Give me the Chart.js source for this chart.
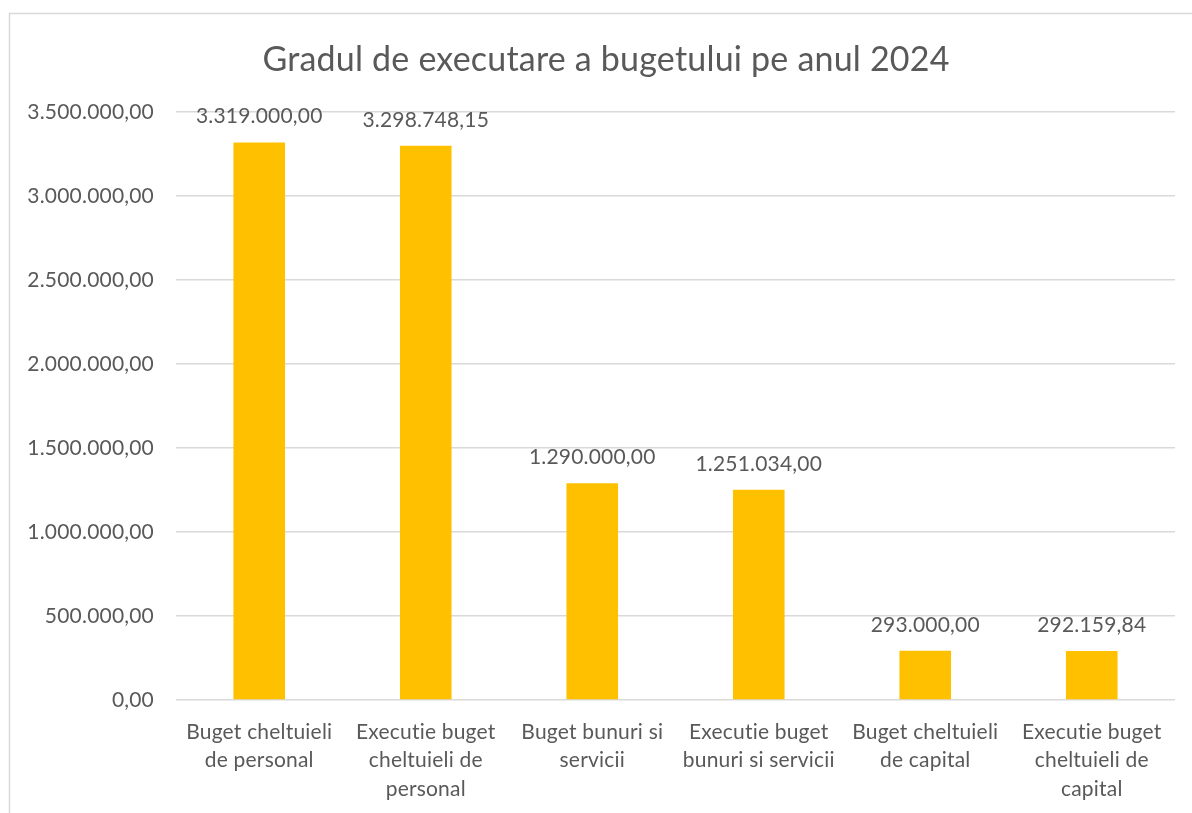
<!DOCTYPE html>
<html>
<head>
<meta charset="utf-8">
<title>Gradul de executare a bugetului pe anul 2024</title>
<script src="https://cdn.jsdelivr.net/npm/chart.js@4/dist/chart.umd.min.js"></script>
<style>
  html, body { margin: 0; padding: 0; background: #fff; overflow: hidden; }
  #wrap { position: relative; width: 1192px; height: 813px; }
</style>
</head>
<body>
<div id="wrap"><canvas id="grafic"></canvas></div>
<script>
// categorii si valori (lei)
var categorii = [
  ['Buget cheltuieli', 'de personal'],
  ['Executie buget', 'cheltuieli de', 'personal'],
  ['Buget bunuri si', 'servicii'],
  ['Executie buget', 'bunuri si servicii'],
  ['Buget cheltuieli', 'de capital'],
  ['Executie buget', 'cheltuieli de', 'capital']
];
var valori = [3319000.00, 3298748.15, 1290000.00, 1251034.00, 293000.00, 292159.84];
var axaY = { min: 0, max: 3500000, pas: 500000 };
var titlu = 'Gradul de executare a bugetului pe anul 2024';

var culoareText = '#595959';
var font = 'Lato, Calibri, Carlito, sans-serif';

// format romanesc: 3.319.000,00
function formatRo(v) {
  var parti = Number(v).toFixed(2).split('.');
  var intreg = parti[0].replace(/\B(?=(\d{3})+(?!\d))/g, '.');
  return intreg + ',' + parti[1];
}

// chenarul graficului + titlul (centrat pe chenar, nu pe canvas)
var chenar = {
  id: 'chenar',
  beforeDraw: function(chart) {
    var c = chart.ctx;
    c.letterSpacing = '0.2px'; // fara ligaturi "ti"
    c.save();
    c.strokeStyle = '#D9D9D9';
    c.lineWidth = 1.5;
    c.strokeRect(9.5, 13.5, chart.width + 20, chart.height + 20);
    c.font = '34px ' + font;
    c.fillStyle = culoareText;
    c.textAlign = 'center';
    c.textBaseline = 'middle';
    c.fillText(titlu, 606, 60);
    c.restore();
  }
};

// etichetele cu valori deasupra barelor
var etichete = {
  id: 'etichete',
  afterDatasetsDraw: function(chart) {
    var c = chart.ctx;
    var meta = chart.getDatasetMeta(0);
    c.save();
    c.font = '21px ' + font;
    c.fillStyle = culoareText;
    c.textAlign = 'center';
    c.textBaseline = 'middle';
    meta.data.forEach(function(bar, i) {
      c.fillText(formatRo(valori[i]), bar.x, bar.y - 26);
    });
    c.restore();
  }
};

var ctx = document.getElementById('grafic');
var chart = new Chart(ctx, {
  type: 'bar',
  data: {
    labels: categorii,
    datasets: [{
      label: 'Valoare',
      data: valori,
      backgroundColor: '#FFC000',
      borderWidth: 0,
      barPercentage: 0.31,
      categoryPercentage: 1
    }]
  },
  options: {
    responsive: true,
    maintainAspectRatio: false,
    animation: false,
    layout: { padding: { left: 20, right: 17, top: 112, bottom: 0 } },
    plugins: {
      legend: { display: false },
      tooltip: { enabled: false },
      title: { display: false }
    },
    scales: {
      x: {
        afterFit: function(scale) { scale.height = 113; },
        grid: { display: false, drawTicks: false },
        border: { display: false },
        ticks: {
          color: culoareText,
          font: { family: font, size: 21, lineHeight: 1.35 },
          padding: 18,
          maxRotation: 0,
          autoSkip: false
        }
      },
      y: {
        min: axaY.min,
        max: axaY.max,
        afterFit: function(scale) { scale.width = 156; },
        grid: { color: '#D9D9D9', lineWidth: 1.5, drawTicks: false },
        border: { display: false },
        ticks: {
          stepSize: axaY.pas,
          color: culoareText,
          font: { family: font, size: 21 },
          padding: 22,
          callback: function(v) { return formatRo(v); }
        }
      }
    }
  },
  plugins: [chenar, etichete]
});
</script>
</body>
</html>
